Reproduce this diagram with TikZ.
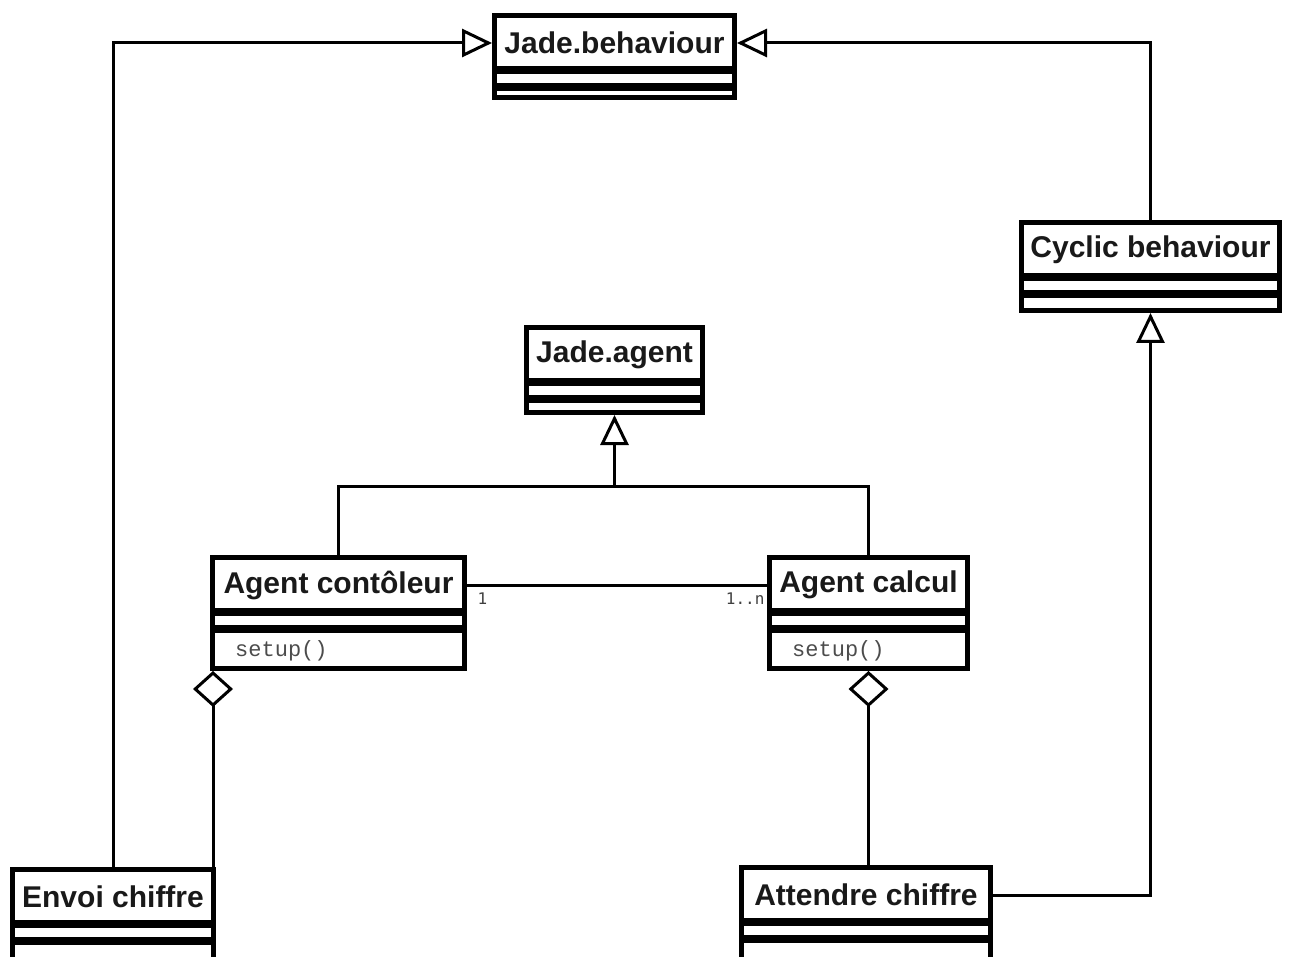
\documentclass[tikz,border=0pt]{standalone}
\usepackage{fontspec}
\usetikzlibrary{arrows.meta,calc}
\newfontfamily\clsfont{Liberation Sans}
\newfontfamily\opfont{Liberation Mono}
\newfontfamily\mulfont{DejaVu Sans Mono}
\tikzset{
  clsbox/.style={draw, line width=5pt, fill=white, inner sep=0pt, rectangle},
  clstitle/.style={inner sep=0pt, font=\clsfont\bfseries\fontsize{30}{34}\selectfont, text=black!90},
  sepline/.style={line width=7.5pt},
  optext/.style={inner sep=0pt, anchor=west, font=\opfont\fontsize{22}{24}\selectfont, text=black!70},
  multext/.style={inner sep=1pt, font=\mulfont\fontsize{16}{18}\selectfont, text=black!75},
  conn/.style={line width=3pt},
  gen/.style={conn, -{Triangle[open, length=30pt, width=28pt, line width=3pt]}},
  aggr/.style={conn, -{Diamond[open, length=36pt, width=40pt, line width=3pt]}}
}
\newcommand{\umlcls}[6]{%
  \node[clsbox, minimum width={#4-#2-5}, minimum height={#5-#3-5}] (#1) at ({(#2+#4)/2},{(#3+#5)/2}) {};
  \node[clstitle] (#1t) at ({(#2+#4)/2},{#3+30}) {#6};
  \draw[sepline] ({#2+2.5},{#3+57}) -- ({#4-2.5},{#3+57});
  \draw[sepline] ({#2+2.5},{#3+74}) -- ({#4-2.5},{#3+74});
}
\begin{document}
\begin{tikzpicture}[x=1pt,y=-1pt]
\useasboundingbox (0,0) rectangle (1293,957);
\clip (0,0) rectangle (1293,957);
\fill[white] (0,0) rectangle (1293,957);
% classes
\umlcls{jb}{492}{13}{737}{100}{Jade.behaviour}
\umlcls{ja}{524}{325}{705}{415}{Jade.agent}
\umlcls{cyc}{1019}{220}{1282}{313}{Cyclic behaviour}
\umlcls{ac}{210}{555}{467}{671}{Agent contôleur}
\umlcls{acal}{767}{555}{970}{671}{Agent calcul}
\umlcls{env}{10}{867}{216}{962}{Envoi chiffre}
\umlcls{att}{739}{865}{993}{962}{Attendre chiffre}
\node[optext] (acop) at (235,651) {setup()};
\node[optext] (acalop) at (792,651) {setup()};
% generalisations
\draw[gen] (env.north) |- (jb.west |- jbt);
\draw[gen] (cyc.north) |- (jb.east |- jbt);
\draw[gen] (att.east |- attt) -| (cyc.south);
\coordinate (junc) at (ja.south |- 0,486);
\draw[conn] (ac.north) |- (junc) -| (acal.north);
\draw[gen] (junc) -- (ja.south);
% association
\draw[conn] (ac.east |- act) -- (acal.west |- act)
  node[multext, pos=0, anchor=north west, xshift=8pt, yshift=-5pt] (m1) {1}
  node[multext, pos=1, anchor=north east, yshift=-5pt] (m2) {1..n};
% aggregations
\coordinate (envagg) at ([xshift=-3pt]env.north east);
\draw[aggr] (envagg) -- (envagg |- ac.south);
\draw[aggr] (acal.south |- att.north) -- (acal.south);
\end{tikzpicture}
\end{document}
